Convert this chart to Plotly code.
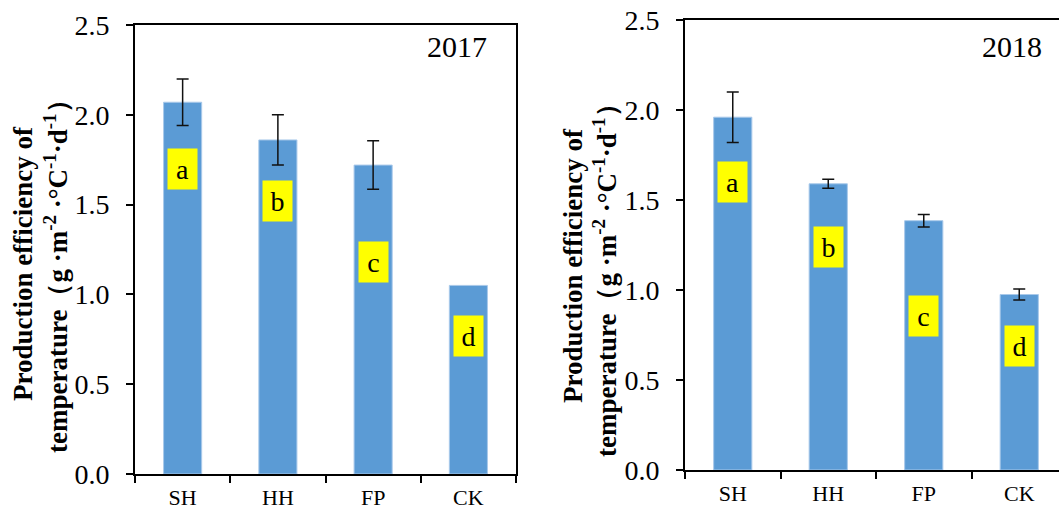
import plotly.graph_objects as go

# Treatments and measured production efficiency of temperature
treatments = ["SH", "HH", "FP", "CK"]

eff_2017 = [2.07, 1.86, 1.72, 1.05]
err_2017 = [0.13, 0.14, 0.135, None]
sig_2017 = ["a", "b", "c", "d"]
sig_y_2017 = [1.70, 1.52, 1.18, 0.77]

eff_2018 = [1.96, 1.59, 1.385, 0.975]
err_2018 = [0.14, 0.025, 0.035, 0.03]
sig_2018 = ["a", "b", "c", "d"]
sig_y_2018 = [1.60, 1.24, 0.855, 0.69]

y_ticks = [0.0, 0.5, 1.0, 1.5, 2.0, 2.5]
y_tick_text = ["0.0", "0.5", "1.0", "1.5", "2.0", "2.5"]

SERIF = "Liberation Serif, Times New Roman, serif"
BAR = "#5B9BD5"
W, H = 1059, 509

fig = go.Figure()


def add_panel(values, errors, xa, ya):
    fig.add_trace(go.Bar(
        x=treatments, y=values, xaxis=xa, yaxis=ya,
        marker=dict(color=BAR, line=dict(color="#A9C9EA", width=1)),
        width=0.4, showlegend=False, hoverinfo="skip",
    ))
    # error bars only where a standard error was reported
    ex = [c for c, e in zip(treatments, errors) if e is not None]
    ey = [v for v, e in zip(values, errors) if e is not None]
    ee = [e for e in errors if e is not None]
    fig.add_trace(go.Scatter(
        x=ex, y=ey, xaxis=xa, yaxis=ya, mode="markers",
        marker=dict(size=1, opacity=0),
        error_y=dict(type="data", array=ee, visible=True,
                     color="#111111", thickness=1.5, width=6),
        showlegend=False, hoverinfo="skip",
    ))


add_panel(eff_2017, err_2017, "x", "y")
add_panel(eff_2018, err_2018, "x2", "y2")

axis_line = dict(showline=True, linecolor="black", linewidth=2,
                 ticks="outside", ticklen=7, tickwidth=2, tickcolor="black",
                 showgrid=False, zeroline=False, fixedrange=True,
                 automargin=False)

xcommon = dict(axis_line, type="category", tickson="boundaries",
               tickfont=dict(family=SERIF, size=22, color="black"),
               ticklabelstandoff=3, mirror=True)
ycommon = dict(axis_line, range=[0, 2.5], tickvals=y_ticks,
               ticktext=y_tick_text, ticklabelstandoff=11,
               tickfont=dict(family=SERIF, size=28, color="black"))

fig.update_layout(
    width=W, height=H,
    margin=dict(l=0, r=0, t=0, b=0, autoexpand=False),
    paper_bgcolor="white", plot_bgcolor="white",
    xaxis=dict(xcommon, domain=[135 / W, 516 / W], range=[-0.5, 3.5],
               anchor="y"),
    yaxis=dict(ycommon, domain=[1 - 474 / H, 1 - 25 / H], anchor="x",
               mirror=True),
    xaxis2=dict(xcommon, domain=[685 / W, 1.0],
                range=[-0.5, -0.5 + 374 / 95.5], anchor="y2"),
    yaxis2=dict(ycommon, domain=[1 - 470 / H, 1 - 20 / H], anchor="x2"),
)

annotations = []

# significance letters on yellow boxes
for xa, ya, letters, ys in (("x", "y", sig_2017, sig_y_2017),
                            ("x2", "y2", sig_2018, sig_y_2018)):
    for cat, letter, yv in zip(treatments, letters, ys):
        annotations.append(dict(
            x=cat, y=yv, xref=xa, yref=ya, text=letter, showarrow=False,
            bgcolor="#FFFF00", width=29, height=40, borderpad=0,
            font=dict(family=SERIF, size=28, color="black"),
            xanchor="center", yanchor="middle",
        ))

# year labels
for txt, px, py in (("2017", 457, 47), ("2018", 1012, 46)):
    annotations.append(dict(
        x=px / W, y=1 - py / H, xref="paper", yref="paper", text=txt,
        showarrow=False, font=dict(family=SERIF, size=30, color="black"),
        xanchor="center", yanchor="middle",
    ))

# y-axis titles, two lines each
line1 = "<b>Production efficiency of</b>"
line2 = ("<b>temperature（g ·m<sup>-2</sup> ·°C<sup>-1</sup>·d<sup>-1</sup>）</b>")
for txt, px, py in ((line1, 23, 264), (line2, 56, 270),
                    (line1, 573, 266), (line2, 605, 274)):
    annotations.append(dict(
        x=px / W, y=1 - py / H, xref="paper", yref="paper", text=txt,
        showarrow=False, textangle=-90,
        font=dict(family=SERIF, size=27, color="black"),
        xanchor="center", yanchor="middle",
    ))

fig.update_layout(annotations=annotations)

fig.write_html("out.html", config={"displayModeBar": False})
